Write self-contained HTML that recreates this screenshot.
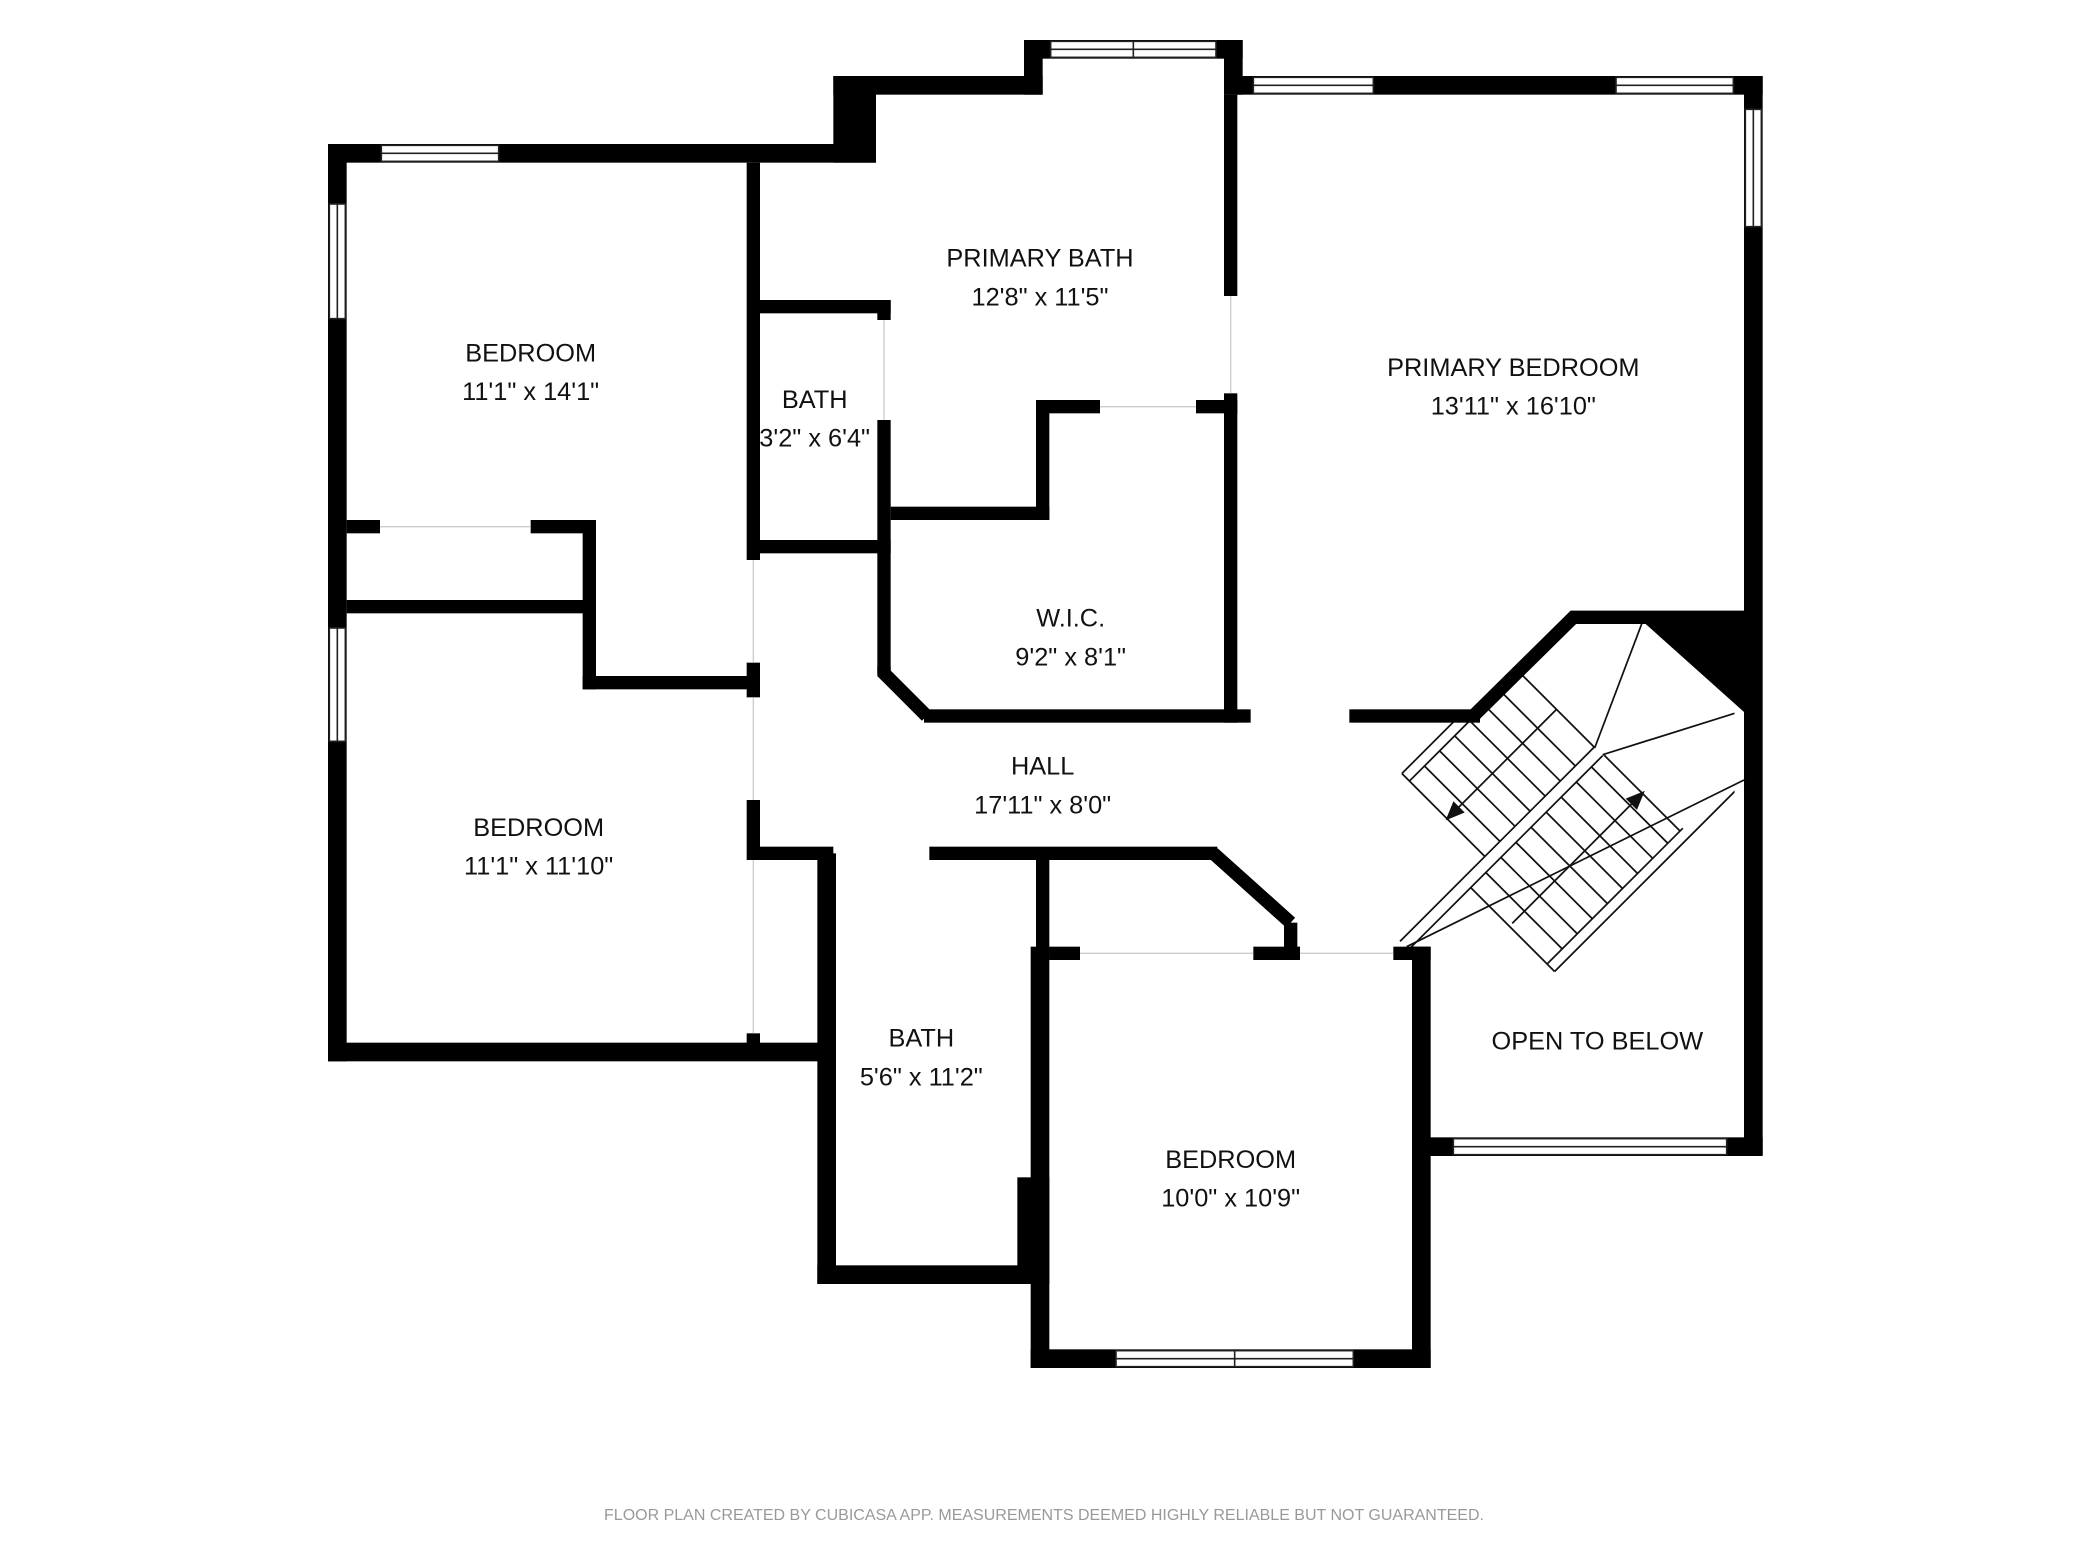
<!DOCTYPE html>
<html><head><meta charset="utf-8"><style>
html,body{margin:0;padding:0;background:#fff;}
svg{display:block;}
text{font-family:"Liberation Sans",sans-serif;fill:#111;}
</style></head><body>
<svg width="2080" height="1560" viewBox="0 0 1560 1170" xmlns="http://www.w3.org/2000/svg">
<rect width="1560" height="1170" fill="#fff"/>
<defs>
<clipPath id="sc"><polygon points="1040,541 1108,541 1180,466 1301,466 1301,860 1040,860"/></clipPath>
</defs>
<g clip-path="url(#sc)" stroke="#111" stroke-width="1.3" fill="none">
<g transform="translate(1050,706) rotate(-45)">
<line x1="0" y1="0" x2="206" y2="0"/>
<line x1="0" y1="9" x2="206" y2="9"/>
<line x1="90" y1="-88" x2="210" y2="-88"/>
<line x1="90" y1="-80" x2="210" y2="-80"/>
<line x1="90" y1="-88" x2="90" y2="0"/>
<line x1="94" y1="-40" x2="206" y2="-40"/>
<g>
<line x1="106" y1="-80" x2="106" y2="0"/><line x1="122" y1="-80" x2="122" y2="0"/><line x1="138" y1="-80" x2="138" y2="0"/><line x1="154" y1="-80" x2="154" y2="0"/><line x1="170" y1="-80" x2="170" y2="0"/><line x1="186" y1="-80" x2="186" y2="0"/><line x1="206" y1="-120" x2="206" y2="0"/>
</g>
<polygon points="90,-40 102,-45 102,-35" fill="#111"/>
<line x1="66" y1="90" x2="210" y2="90"/>
<line x1="66" y1="98" x2="260" y2="98"/>
<line x1="66" y1="9" x2="66" y2="98"/>
<line x1="69" y1="50" x2="200" y2="50"/>
<line x1="82" y1="9" x2="82" y2="90"/><line x1="98" y1="9" x2="98" y2="90"/><line x1="114" y1="9" x2="114" y2="90"/><line x1="130" y1="9" x2="130" y2="90"/><line x1="146" y1="9" x2="146" y2="90"/><line x1="162" y1="9" x2="162" y2="90"/><line x1="178" y1="9" x2="178" y2="90"/><line x1="194" y1="9" x2="194" y2="90"/><line x1="207" y1="9" x2="207" y2="90"/>
<polygon points="208,50 196,45 196,55" fill="#111"/>
</g>
<line x1="1196" y1="561" x2="1232" y2="466"/>
<line x1="1202" y1="566" x2="1301" y2="535"/>
</g>
<polygon points="1232,466 1308,466 1308,534" fill="#000"/>

<g fill="#000">
<rect x="246" y="108" width="411" height="14"/>
<rect x="625" y="57" width="32" height="65"/>
<rect x="625" y="57" width="157" height="14"/>
<rect x="768" y="30" width="14" height="41"/>
<rect x="768" y="30" width="164" height="14"/>
<rect x="918" y="30" width="14" height="41"/>
<rect x="918" y="57" width="404" height="14"/>
<rect x="1308" y="57" width="14" height="809"/>
<rect x="246" y="108" width="14" height="688"/>
<rect x="246" y="782" width="381" height="14"/>
<rect x="613" y="640" width="14" height="323"/>
<rect x="613" y="949" width="164" height="14"/>
<rect x="763" y="883" width="24" height="80"/>
<rect x="773" y="710" width="14" height="316"/>
<rect x="773" y="1012" width="300" height="14"/>
<rect x="1059" y="710" width="14" height="316"/>
<rect x="1059" y="853" width="263" height="14"/>
<rect x="560" y="122" width="10" height="298"/>
<rect x="560" y="497" width="10" height="26"/>
<rect x="560" y="600" width="10" height="45"/>
<rect x="560" y="775" width="10" height="10"/>
<rect x="260" y="390" width="25" height="10"/>
<rect x="398" y="390" width="48" height="10"/>
<rect x="437" y="390" width="10" height="127"/>
<rect x="437" y="507" width="133" height="10"/>
<rect x="260" y="450" width="187" height="10"/>
<rect x="570" y="225" width="98" height="10"/>
<rect x="658" y="225" width="10" height="15"/>
<rect x="658" y="315" width="10" height="190"/>
<rect x="570" y="405" width="98" height="10"/>
<rect x="668" y="380" width="119" height="10"/>
<rect x="777" y="300" width="10" height="90"/>
<rect x="777" y="300" width="48" height="10"/>
<rect x="897" y="300" width="31" height="10"/>
<rect x="918" y="71" width="10" height="151"/>
<rect x="918" y="295" width="10" height="247"/>
<rect x="693" y="532" width="245" height="10"/>
<rect x="1012" y="532" width="98" height="10"/>
<rect x="570" y="635" width="55" height="10"/>
<rect x="697" y="635" width="216" height="10"/>
<rect x="963" y="692" width="10" height="28"/>
<rect x="777" y="645" width="10" height="75"/>
<rect x="787" y="710" width="23" height="10"/>
<rect x="940" y="710" width="35" height="10"/>
<rect x="1045" y="710" width="28" height="10"/>
</g>
<g stroke="#000" stroke-width="10" fill="none" stroke-linejoin="miter">
<polyline points="663,500 663,505 695,537"/>
<polyline points="910,640 968,692"/>
<polyline points="1105,537 1180,463 1308,463"/>
</g>
<g stroke="#111" stroke-width="1.3">
<line x1="1055" y1="710" x2="1308" y2="585"/>
</g>
<g fill="#fff" stroke="#222" stroke-width="1.2">
<rect x="286" y="109" width="88" height="12"/><line x1="286" y1="115" x2="374" y2="115"/>
<rect x="247" y="153" width="12" height="86"/><line x1="253" y1="153" x2="253" y2="239"/>
<rect x="247" y="471" width="12" height="85"/><line x1="253" y1="471" x2="253" y2="556"/>
<rect x="788" y="31" width="124" height="12"/><line x1="788" y1="37" x2="912" y2="37"/><line x1="850" y1="31" x2="850" y2="43"/>
<rect x="940" y="58" width="90" height="12"/><line x1="940" y1="64" x2="1030" y2="64"/>
<rect x="1212" y="58" width="88" height="12"/><line x1="1212" y1="64" x2="1300" y2="64"/>
<rect x="1309" y="82" width="12" height="88"/><line x1="1315" y1="82" x2="1315" y2="170"/>
<rect x="1090" y="854" width="205" height="12"/><line x1="1090" y1="860" x2="1295" y2="860"/>
<rect x="837" y="1013" width="178" height="12"/><line x1="837" y1="1019" x2="1015" y2="1019"/><line x1="926" y1="1013" x2="926" y2="1025"/>
</g>
<g stroke="#ccc" stroke-width="1">
<line x1="565" y1="420" x2="565" y2="497"/><line x1="565" y1="523" x2="565" y2="600"/><line x1="565" y1="645" x2="565" y2="775"/>
<line x1="285" y1="395" x2="398" y2="395"/>
<line x1="663" y1="240" x2="663" y2="315"/>
<line x1="825" y1="305" x2="897" y2="305"/>
<line x1="923" y1="222" x2="923" y2="295"/>
<line x1="810" y1="715" x2="940" y2="715"/>
<line x1="975" y1="715" x2="1045" y2="715"/>
</g>
<g font-size="19" text-anchor="middle">
<text x="398" y="271">BEDROOM</text><text x="398" y="300">11'1" x 14'1"</text>
<text x="780" y="200">PRIMARY BATH</text><text x="780" y="229">12'8" x 11'5"</text>
<text x="1135" y="282">PRIMARY BEDROOM</text><text x="1135" y="311">13'11" x 16'10"</text>
<text x="611" y="306">BATH</text><text x="611" y="335">3'2" x 6'4"</text>
<text x="803" y="470">W.I.C.</text><text x="803" y="499">9'2" x 8'1"</text>
<text x="782" y="581">HALL</text><text x="782" y="610">17'11" x 8'0"</text>
<text x="404" y="627">BEDROOM</text><text x="404" y="656">11'1" x 11'10"</text>
<text x="691" y="785">BATH</text><text x="691" y="814">5'6" x 11'2"</text>
<text x="1198" y="787">OPEN TO BELOW</text>
<text x="923" y="876">BEDROOM</text><text x="923" y="905">10'0" x 10'9"</text>
</g>
<text x="783" y="1140" font-size="12" text-anchor="middle" style="fill:#999">FLOOR PLAN CREATED BY CUBICASA APP. MEASUREMENTS DEEMED HIGHLY RELIABLE BUT NOT GUARANTEED.</text>
</svg>
</body></html>
